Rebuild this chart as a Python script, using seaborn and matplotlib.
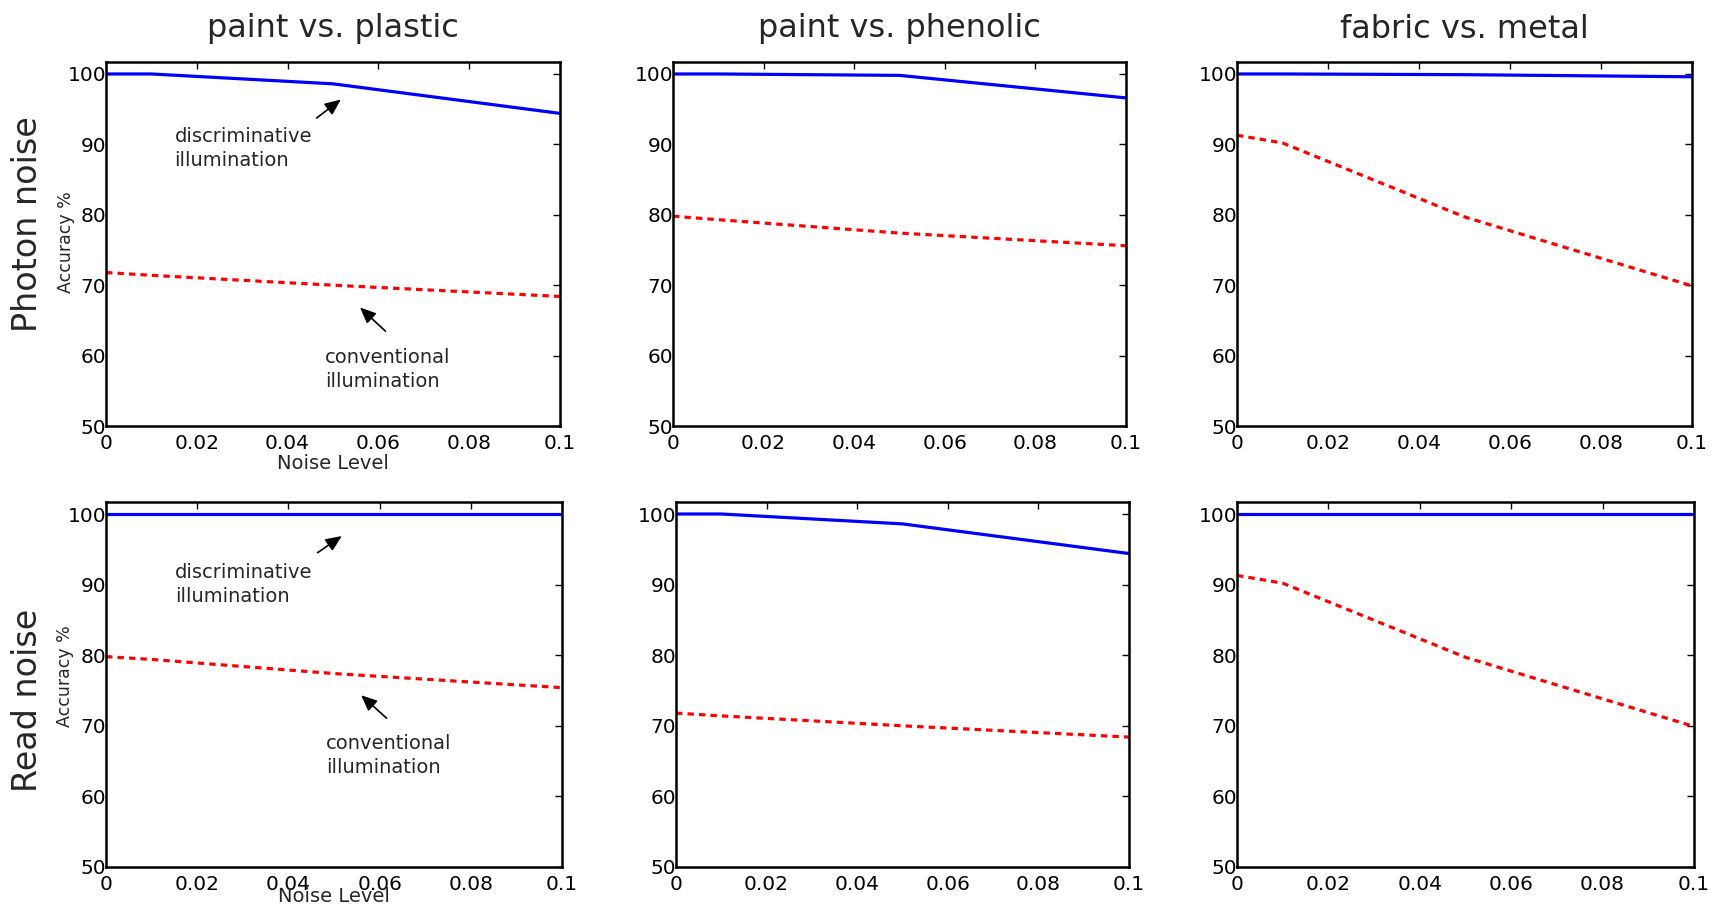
import numpy as np
import pandas as pd
import matplotlib
matplotlib.use("Agg")
import matplotlib.pyplot as plt
import seaborn as sns

sns.set_theme(style="white")
plt.rcParams['font.family'] = ['DejaVu Sans']

noise = [0.0, 0.01, 0.05, 0.1]
col_titles = ["paint vs. plastic", "paint vs. phenolic", "fabric vs. metal"]
row_titles = ["Photon noise", "Read noise"]

# discriminative (blue) and conventional (red) accuracy
photon_disc = [[100, 100, 98.6, 94.4], [100, 100, 99.8, 96.6], [100, 100, 99.9, 99.6]]
photon_conv = [[71.8, 71.4, 70.0, 68.4], [79.8, 79.3, 77.4, 75.6], [91.3, 90.2, 79.7, 69.9]]
read_disc = [[100, 100, 100, 100], [100, 100, 98.6, 94.4], [100, 100, 100, 100]]
read_conv = [[79.8, 79.4, 77.4, 75.4], [71.8, 71.4, 70.0, 68.4], [91.3, 90.2, 79.7, 69.9]]

W, H = 1711, 907
fig = plt.figure(figsize=(W / 100, H / 100), dpi=100)

lefts = [[106, 673, 1237], [106, 676, 1237]]
rights = [[560, 1126, 1692], [562, 1129, 1694]]
tops = [62, 502]
bottoms = [426, 867]
ylab_y = [0.505, 0.523]
xlab_y = [-0.102, -0.082]

data = [(photon_disc, photon_conv), (read_disc, read_conv)]

axes = []
for r in range(2):
    for c in range(3):
        l, rt = lefts[r][c], rights[r][c]
        t, b = tops[r], bottoms[r]
        ax = fig.add_axes([l / W, 1 - b / H, (rt - l) / W, (b - t) / H])
        disc, conv = data[r]
        df = pd.DataFrame({"noise": noise, "disc": disc[c], "conv": conv[c]})
        sns.lineplot(data=df, x="noise", y="disc", ax=ax, color="#0000ff", lw=2.3)
        sns.lineplot(data=df, x="noise", y="conv", ax=ax, color="#ff0000", lw=2.3,
                     linestyle=(0, (2.0, 1.6)))
        ax.set_xlim(0, 0.1)
        ax.set_ylim(50, 101.7)
        ax.set_xticks([0, 0.02, 0.04, 0.06, 0.08, 0.1])
        ax.set_xticklabels(["0", "0.02", "0.04", "0.06", "0.08", "0.1"])
        ax.set_yticks([50, 60, 70, 80, 90, 100])
        ax.tick_params(direction="in", length=5, width=1, top=True, right=True,
                       labelsize=14.5, colors="black")
        ax.tick_params(axis="x", pad=6)
        ax.tick_params(axis="y", pad=0)
        for s in ax.spines.values():
            s.set_color("black")
            s.set_linewidth(1.8)
        ax.set_xlabel("")
        ax.set_ylabel("")
        if c == 0:
            ax.set_ylabel("Accuracy %", fontsize=12.5)
            ax.yaxis.set_label_coords(-0.089, ylab_y[r])
            ax.yaxis.label.set_va("center")
            ax.set_xlabel("Noise Level", fontsize=14)
            ax.xaxis.set_label_coords(0.5, xlab_y[r])
            ax.xaxis.label.set_va("center")
        axes.append(ax)

# column titles and row titles
xcent = [(106 + 560) / 2, (673 + 1126) / 2, (1237 + 1692) / 2]
for c in range(3):
    fig.text(xcent[c] / W, 1 - 29 / H, col_titles[c], ha="center", va="center", fontsize=23)
fig.text(28 / W, 1 - 224 / H, row_titles[0], rotation=90, ha="center", va="center", fontsize=24)
fig.text(28 / W, 1 - 700 / H, row_titles[1], rotation=90, ha="center", va="center", fontsize=24)

arrow = dict(arrowstyle="-|>,head_length=0.8,head_width=0.35", color="black", lw=1.2)

ax = axes[0]
ax.text(0.0151, 89.4, "discriminative\nillumination", fontsize=14, va="center", ha="left",
        linespacing=1.35)
ax.annotate("", xy=(0.0522, 96.6), xytext=(0.0459, 93.5), arrowprops=arrow)
ax.text(0.0483, 58.0, "conventional\nillumination", fontsize=14, va="center", ha="left",
        linespacing=1.35)
ax.annotate("", xy=(0.0555, 67.1), xytext=(0.062, 63.2), arrowprops=arrow)

ax = axes[3]
ax.text(0.0151, 90.0, "discriminative\nillumination", fontsize=14, va="center", ha="left",
        linespacing=1.35)
ax.annotate("", xy=(0.0522, 97.1), xytext=(0.0459, 94.3), arrowprops=arrow)
ax.text(0.0483, 65.8, "conventional\nillumination", fontsize=14, va="center", ha="left",
        linespacing=1.35)
ax.annotate("", xy=(0.0555, 74.6), xytext=(0.062, 70.8), arrowprops=arrow)

fig.savefig("out.png", dpi=100, facecolor="white")
